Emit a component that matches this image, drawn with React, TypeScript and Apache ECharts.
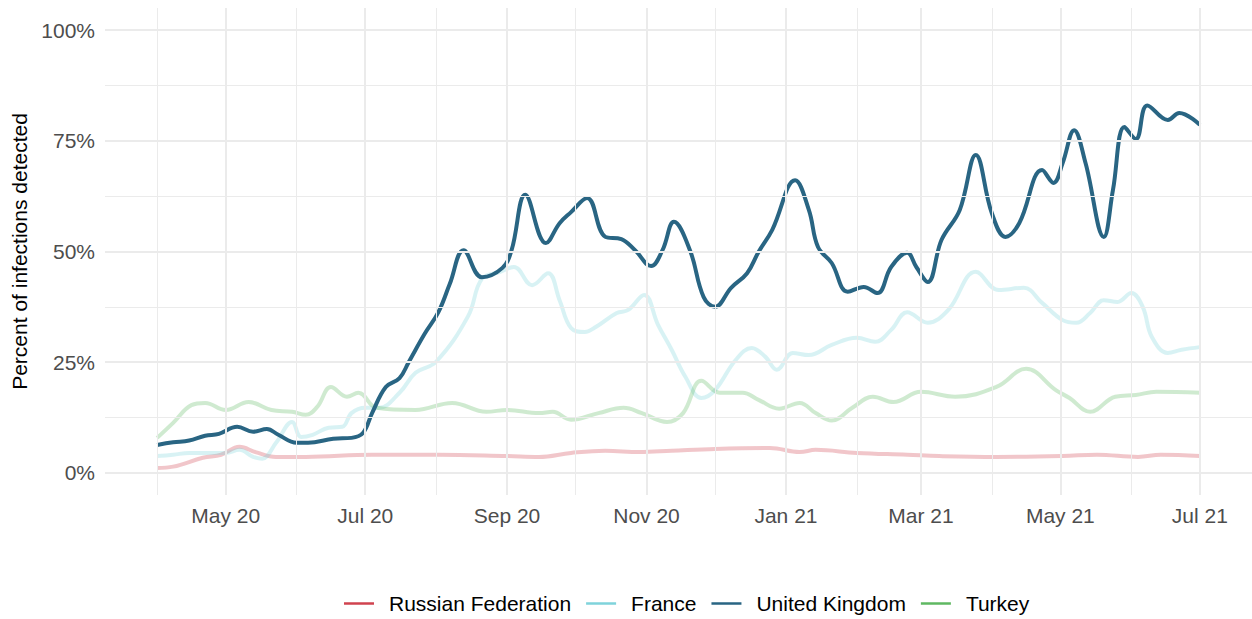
import React, { useEffect, useRef } from "react";
import * as echarts from "echarts";

// ---- data ----
const seriesNames = ["Russian Federation", "France", "United Kingdom", "Turkey"];
const seriesColors = ["#D0434F", "#7FD3DB", "#296583", "#5FB862"];

const russiaData: [string, number][] = [
  ["2020-04-01", 1.1], ["2020-04-08", 1.4], ["2020-04-21", 3.4], ["2020-04-29", 4.1],
  ["2020-05-07", 5.9], ["2020-05-14", 4.7], ["2020-05-23", 3.6], ["2020-06-05", 3.6],
  ["2020-07-04", 4.1], ["2020-08-02", 4.1], ["2020-09-01", 3.8], ["2020-09-15", 3.6],
  ["2020-09-29", 4.5], ["2020-10-14", 5.0], ["2020-10-29", 4.7], ["2020-11-12", 5.0],
  ["2020-12-01", 5.4], ["2020-12-25", 5.6], ["2021-01-07", 4.7], ["2021-01-14", 5.2],
  ["2021-02-01", 4.5], ["2021-02-23", 4.1], ["2021-03-09", 3.8], ["2021-04-03", 3.6],
  ["2021-05-02", 3.8], ["2021-05-17", 4.1], ["2021-06-04", 3.6], ["2021-06-14", 4.1],
  ["2021-07-01", 3.8],
];

const franceData: [string, number][] = [
  ["2020-04-01", 3.8], ["2020-04-08", 4.1], ["2020-04-15", 4.5], ["2020-04-22", 4.5],
  ["2020-05-01", 4.5], ["2020-05-07", 5.2], ["2020-05-13", 3.6], ["2020-05-17", 3.2],
  ["2020-05-23", 6.8], ["2020-05-30", 11.5], ["2020-06-03", 8.1], ["2020-06-08", 8.6],
  ["2020-06-15", 10.2], ["2020-06-21", 10.4], ["2020-06-25", 13.5], ["2020-07-01", 14.7],
  ["2020-07-07", 14.7], ["2020-07-16", 18.1], ["2020-07-23", 22.6], ["2020-08-01", 25.1],
  ["2020-08-15", 35.4], ["2020-08-21", 43.8], ["2020-08-29", 45.4], ["2020-09-04", 46.5],
  ["2020-09-12", 42.4], ["2020-09-19", 45.1], ["2020-09-24", 39.0], ["2020-09-29", 32.7],
  ["2020-10-05", 31.8], ["2020-10-10", 33.0], ["2020-10-19", 36.1], ["2020-10-24", 36.8],
  ["2020-10-31", 40.2], ["2020-11-06", 33.5], ["2020-11-12", 27.8], ["2020-11-18", 21.7],
  ["2020-11-25", 16.9], ["2020-12-01", 18.7], ["2020-12-10", 25.5], ["2020-12-17", 28.2],
  ["2020-12-23", 26.2], ["2020-12-28", 23.3], ["2021-01-04", 27.1], ["2021-01-11", 26.6],
  ["2021-01-21", 28.9], ["2021-02-01", 30.5], ["2021-02-09", 29.6], ["2021-02-16", 32.3],
  ["2021-02-23", 36.3], ["2021-03-04", 33.9], ["2021-03-13", 36.8], ["2021-03-25", 45.4],
  ["2021-04-04", 41.3], ["2021-04-15", 41.8], ["2021-04-23", 38.4], ["2021-05-02", 34.5],
  ["2021-05-08", 33.9], ["2021-05-14", 36.1], ["2021-05-20", 39.0], ["2021-05-26", 38.6],
  ["2021-06-01", 40.6], ["2021-06-06", 37.5], ["2021-06-10", 30.7], ["2021-06-17", 27.1],
  ["2021-06-23", 27.8], ["2021-07-01", 28.4],
];

const ukData: [string, number][] = [
  ["2020-04-01", 6.3], ["2020-04-08", 6.9], ["2020-04-15", 7.3], ["2020-04-22", 8.4],
  ["2020-04-28", 8.8], ["2020-05-06", 10.4], ["2020-05-13", 9.3], ["2020-05-19", 9.9],
  ["2020-05-24", 8.6], ["2020-06-01", 6.8], ["2020-06-06", 6.8], ["2020-06-17", 7.7],
  ["2020-06-25", 7.9], ["2020-06-30", 9.0], ["2020-07-04", 13.5], ["2020-07-10", 19.4],
  ["2020-07-16", 21.4], ["2020-07-20", 25.0], ["2020-07-27", 31.4], ["2020-08-02", 36.3],
  ["2020-08-07", 42.7], ["2020-08-13", 50.3], ["2020-08-21", 44.2], ["2020-08-30", 46.3],
  ["2020-09-03", 50.3], ["2020-09-09", 62.8], ["2020-09-18", 51.9], ["2020-09-24", 56.4],
  ["2020-09-29", 58.9], ["2020-10-06", 62.1], ["2020-10-14", 53.3], ["2020-10-21", 52.8],
  ["2020-10-27", 50.3], ["2020-11-03", 46.7], ["2020-11-08", 50.3], ["2020-11-13", 56.7],
  ["2020-11-20", 50.3], ["2020-11-26", 39.7], ["2020-12-01", 37.5], ["2020-12-08", 41.8],
  ["2020-12-15", 45.1], ["2020-12-20", 49.9], ["2020-12-26", 54.9], ["2021-01-05", 66.1],
  ["2021-01-11", 59.4], ["2021-01-15", 51.0], ["2021-01-21", 47.4], ["2021-01-28", 40.9],
  ["2021-02-04", 42.0], ["2021-02-10", 40.6], ["2021-02-16", 46.5], ["2021-02-23", 49.7],
  ["2021-02-27", 46.5], ["2021-03-04", 43.1], ["2021-03-10", 52.6], ["2021-03-18", 59.4],
  ["2021-03-25", 71.8], ["2021-04-01", 58.7], ["2021-04-07", 53.3], ["2021-04-13", 56.4],
  ["2021-04-23", 68.4], ["2021-04-28", 65.5], ["2021-05-02", 70.0], ["2021-05-07", 77.4],
  ["2021-05-12", 70.0], ["2021-05-20", 53.3], ["2021-05-24", 63.9], ["2021-05-29", 78.1],
  ["2021-06-03", 75.4], ["2021-06-08", 83.0], ["2021-06-17", 79.7], ["2021-06-22", 81.3],
  ["2021-07-01", 78.6],
];

const turkeyData: [string, number][] = [
  ["2020-04-01", 7.9], ["2020-04-08", 11.3], ["2020-04-16", 15.3], ["2020-04-22", 15.8],
  ["2020-05-01", 14.2], ["2020-05-11", 16.0], ["2020-05-21", 14.2], ["2020-05-30", 13.8],
  ["2020-06-05", 13.1], ["2020-06-10", 14.9], ["2020-06-16", 19.4], ["2020-06-23", 17.2],
  ["2020-06-28", 18.1], ["2020-07-06", 14.7], ["2020-07-23", 14.2], ["2020-08-08", 15.8],
  ["2020-08-23", 13.8], ["2020-09-01", 14.2], ["2020-09-15", 13.5], ["2020-09-21", 13.8],
  ["2020-09-29", 12.0], ["2020-10-11", 13.5], ["2020-10-22", 14.7], ["2020-10-30", 13.5],
  ["2020-11-10", 11.5], ["2020-11-17", 13.5], ["2020-11-25", 20.8], ["2020-12-03", 18.1],
  ["2020-12-13", 18.1], ["2020-12-20", 16.5], ["2020-12-29", 14.5], ["2021-01-07", 15.8],
  ["2021-01-14", 13.5], ["2021-01-21", 11.8], ["2021-01-30", 14.7], ["2021-02-08", 17.2],
  ["2021-02-17", 16.0], ["2021-03-01", 18.3], ["2021-03-16", 17.2], ["2021-04-03", 19.4],
  ["2021-04-16", 23.5], ["2021-04-29", 18.7], ["2021-05-05", 16.9], ["2021-05-14", 13.8],
  ["2021-05-25", 17.2], ["2021-06-03", 17.6], ["2021-06-12", 18.3], ["2021-07-01", 18.1],
];

const majorXTicks = ["2020-05-01", "2020-07-01", "2020-09-01", "2020-11-01", "2021-01-01", "2021-03-01", "2021-05-01", "2021-07-01"];
const minorXTicks = ["2020-04-01", "2020-06-01", "2020-08-01", "2020-10-01", "2020-12-01", "2021-02-01", "2021-04-01", "2021-06-01"];
const majorYTicks = [0, 25, 50, 75, 100];
const minorYTicks = [12.5, 37.5, 62.5, 87.5];
const monthNames = ["Jan", "Feb", "Mar", "Apr", "May", "Jun", "Jul", "Aug", "Sep", "Oct", "Nov", "Dec"];

const ts = (s: string) => new Date(s + "T00:00:00Z").getTime();
const DAY = 86400000;
const dataStart = ts("2020-04-01");
const dataEnd = ts("2021-07-01");
const pad = (dataEnd - dataStart) * 0.05;

const FONT = "'Liberation Sans', Arial, Helvetica, sans-serif";
const FS = 21;

export default function App() {
  const ref = useRef<HTMLDivElement>(null);
  useEffect(() => {
    if (!ref.current) return;
    const chart = echarts.init(ref.current, null, { renderer: "svg" });
    const allData = [russiaData, franceData, ukData, turkeyData];
    const gridLineColor = "#EBEBEB";
    const markData: any[] = [
      ...majorYTicks.map((v) => ({ yAxis: v, lineStyle: { width: 2, color: gridLineColor } })),
      ...minorYTicks.map((v) => ({ yAxis: v, lineStyle: { width: 1, color: gridLineColor } })),
      ...majorXTicks.map((d) => ({ xAxis: ts(d), lineStyle: { width: 2, color: gridLineColor } })),
      ...minorXTicks.map((d) => ({ xAxis: ts(d), lineStyle: { width: 1, color: gridLineColor } })),
    ];
    const series: any[] = [
      {
        name: "grid",
        type: "line",
        data: [],
        z: 1,
        silent: true,
        markLine: {
          silent: true,
          symbol: ["none", "none"],
          label: { show: false },
          lineStyle: { type: "solid", color: gridLineColor },
          data: markData,
          animation: false,
        },
      },
    ];
    const order = [0, 1, 3, 2];
    order.forEach((i) => {
      const isUK = i === 2;
      series.push({
        name: seriesNames[i],
        type: "line",
        color: seriesColors[i],
        data: allData[i].map(([d, v]) => [ts(d), v]),
        smooth: 0.4,
        showSymbol: false,
        symbol: "none",
        z: isUK ? 4 : 3,
        lineStyle: { width: 4, color: seriesColors[i], opacity: isUK ? 1 : 0.3 },
      });
    });
    chart.setOption({
      animation: false,
      textStyle: { fontFamily: FONT },
      grid: {
        left: 105, right: 0, top: 8, bottom: 124,
        containLabel: false,
        outerBoundsMode: "none",
      },
      xAxis: {
        type: "value",
        min: dataStart - pad,
        max: dataEnd + pad,
        axisLine: { show: false },
        axisTick: { show: false },
        splitLine: { show: false },
        axisLabel: {
          customValues: majorXTicks.map(ts),
          color: "#4D4D4D",
          fontSize: FS,
          fontFamily: FONT,
          margin: 10,
          formatter: (v: number) => {
            const d = new Date(v + DAY / 2);
            return monthNames[d.getUTCMonth()] + " " + String(d.getUTCFullYear()).slice(2);
          },
        },
      },
      yAxis: {
        type: "value",
        min: -5,
        max: 105,
        axisLine: { show: false },
        axisTick: { show: false },
        splitLine: { show: false },
        axisLabel: {
          customValues: majorYTicks,
          color: "#4D4D4D",
          fontSize: FS,
          fontFamily: FONT,
          margin: 10,
          formatter: (v: number) => `${v}%`,
        },
        name: "Percent of infections detected",
        nameLocation: "middle",
        nameGap: 74,
        nameRotate: 90,
        nameTextStyle: { color: "#000", fontSize: FS, fontFamily: FONT },
      },
      legend: {
        data: seriesNames,
        left: 339,
        top: 588,
        icon: "rect",
        itemWidth: 30,
        itemHeight: 2.5,
        itemGap: 15,
        itemStyle: { opacity: 1 },
        textStyle: { color: "#000", fontSize: FS, fontFamily: FONT, padding: [0, 0, 0, 10] },
      },
      series,
    });
    return () => chart.dispose();
  }, []);
  return (
    <div
      ref={ref}
      style={{ position: "fixed", left: 0, top: 0, width: 1252, height: 619, background: "#fff" }}
    />
  );
}
